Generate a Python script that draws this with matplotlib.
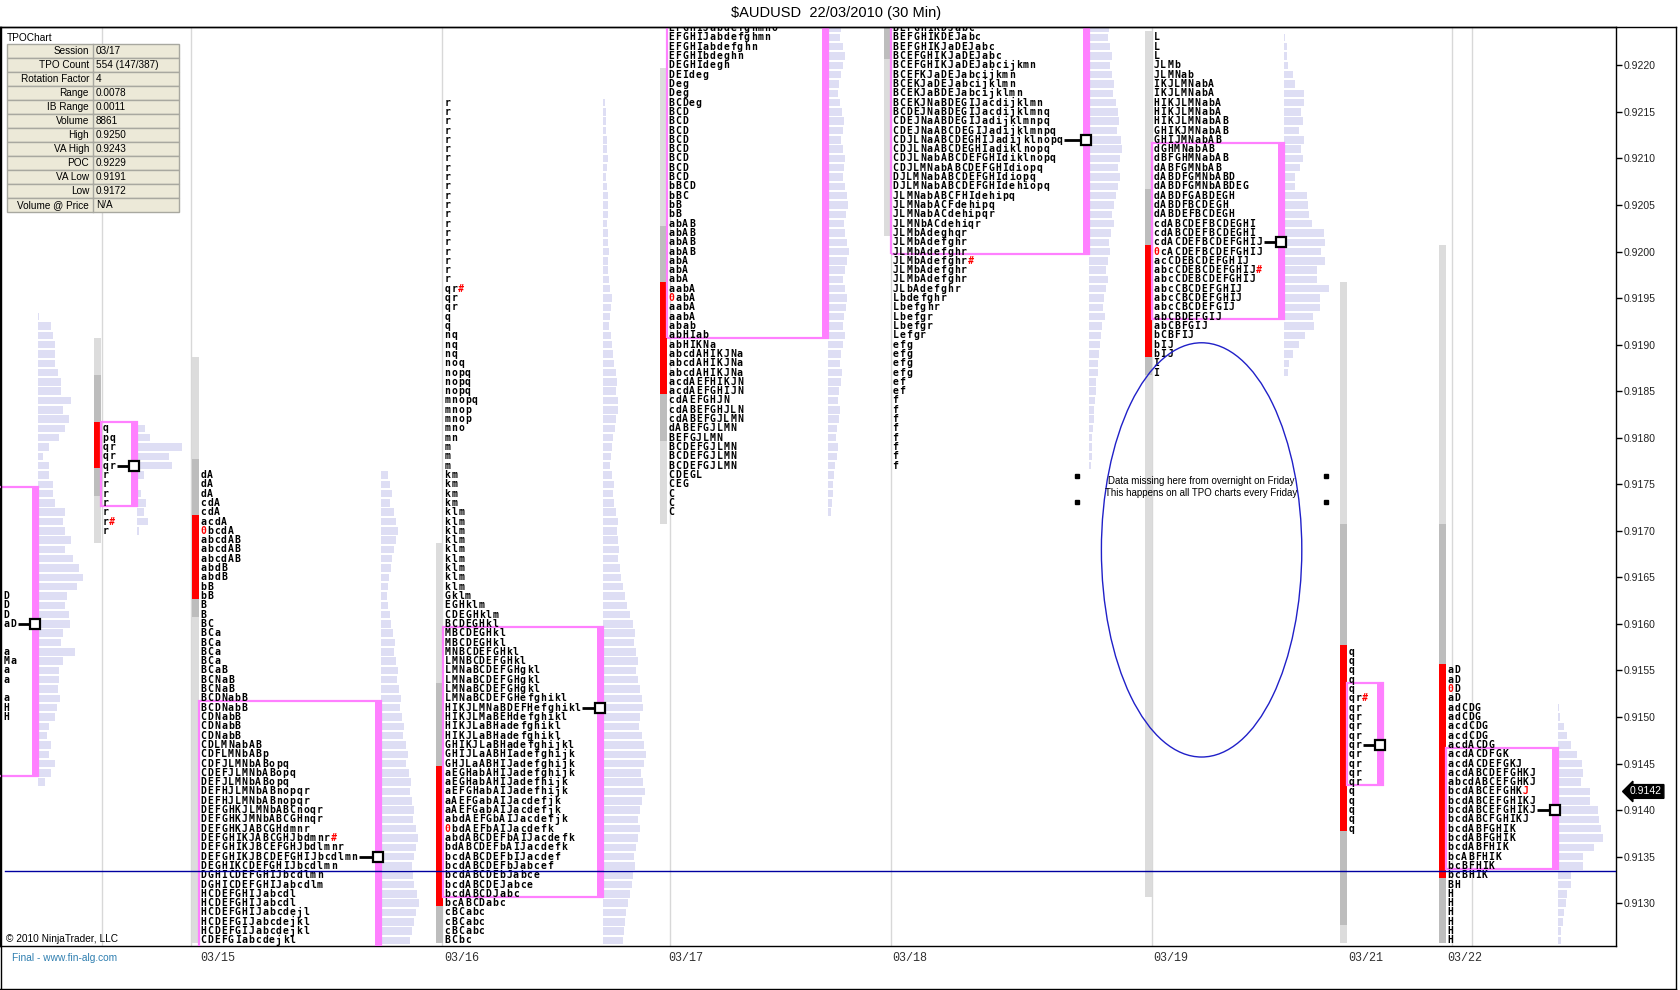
import matplotlib
matplotlib.use('Agg')
import matplotlib.pyplot as plt
from matplotlib.patches import Rectangle, Ellipse
from matplotlib.ticker import MultipleLocator, FormatStrFormatter

PIP = 0.0001

# ---------------------------------------------------------------- data
# one entry per session shown: 03/12 (cut off), 03/14 evening, 03/15 ... 03/22
session_names = ['03/12', '03/14', '03/15', '03/16', '03/17', '03/18', '03/19', '03/21', '03/22']
date_labels = ['', '', '03/15', '03/16', '03/17', '03/18', '03/19', '03/21', '03/22']

tpo_12 = ['D', 'D', 'D', 'aD', '', '', 'a', 'Ma', 'a', 'a', '', 'a', 'H', 'H']
tpo_14 = ['q', 'pq', 'qr', 'qr', 'qr', 'r', 'r', 'r', 'r', 'r', 'r#', 'r']
tpo_15 = ['dA', 'dA', 'dA', 'cdA', 'cdA', 'acdA', '0bcdA', 'abcdAB', 'abcdAB', 'abcdAB',
          'abdB', 'abdB', 'bB', 'bB', 'B', 'B', 'BC', 'BCa', 'BCa', 'BCa', 'BCa', 'BCaB',
          'BCNaB', 'BCNaB', 'BCDNabB', 'BCDNabB', 'CDNabB', 'CDNabB', 'CDNabB', 'CDLMNabAB',
          'CDFLMNbABp', 'CDFJLMNbABopq', 'CDEFJLMNbABopq', 'DEFJLMNbABopq', 'DEFHJLMNbABnopqr',
          'DEFHJLMNbABnopqr', 'DEFGHKJLMNbABCnoqr', 'DEFGHKJMNbABCGHnqr', 'DEFGHKJABCGHdmnr',
          'DEFGHIKJABCGHJbdmnr#', 'DEFGHIKJBCEFGHJbdlmnr', 'DEFGHIKJBCDEFGHIJbcdlmn',
          'DEGHIKCDEFGHIJbcdlmn', 'DGHICDEFGHIJbcdlmn', 'DGHICDEFGHIJabcdlm', 'HCDEFGHIJabcdl',
          'HCDEFGHIJabcdl', 'HCDEFGHIJabcdejl', 'HCDEFGIJabcdejkl', 'HCDEFGIJabcdejkl',
          'CDEFGIabcdejkl']
tpo_16 = ['r', 'r', 'r', 'r', 'r', 'r', 'r', 'r', 'r', 'r', 'r', 'r', 'r', 'r', 'r', 'r',
          'r', 'r', 'r', 'r', 'qr#', 'qr', 'qr', 'q', 'q', 'nq', 'nq', 'nq', 'noq', 'nopq',
          'nopq', 'nopq', 'mnopq', 'mnop', 'mnop', 'mno', 'mn', 'm', 'm', 'm', 'km', 'km', 'km',
          'km', 'klm', 'klm', 'klm', 'klm', 'klm', 'klm', 'klm', 'klm', 'klm', 'Gklm', 'EGHklm',
          'CDEGHklm', 'BCDEGHkl', 'MBCDEGHkl', 'MBCDEGHkl', 'MNBCDEFGHkl', 'LMNBCDEFGHkl',
          'LMNaBCDEFGHgkl', 'LMNaBCDEFGHgkl', 'LMNaBCDEFGHgkl', 'LMNaBCDEFGHefghikl',
          'HIKJLMNaBDEFHefghikl', 'HIKJLMaBEHdefghikl', 'HIKJLaBHadefghikl', 'HIKJLaBHadefghikl',
          'GHIKJLaBHadefghijkl', 'GHIJLaABHIadefghijk', 'GHJLaABHIJadefghijk',
          'aEGHabAHIJadefghijk', 'aEGHabAHIJadefhijk', 'aEFGHabAIJadefhijk', 'aAEFGabAIJacdefjk',
          'aAEFGabAIJacdefjk', 'abdAEFGbAIJacdefjk', '0bdAEFbAIJacdefk', 'abdABCDEFbAIJacdefk',
          'bdABCDEFbAIJacdefk', 'bcdABCDEFbIJacdef', 'bcdABCDEFbJabcef', 'bcdABCDEbJabce',
          'bcdABCDEJabce', 'bcdABCDJabc', 'bcABCDabc', 'cBCabc', 'cBCabc', 'cBCabc', 'BCbc']
tpo_17 = ['EFGHIJabdefghmno', 'EFGHIJabdefghmn', 'EFGHIabdefghn', 'EFGHIbdeghn', 'DEGHIdegh',
          'DEIdeg', 'Deg', 'Deg', 'BCDeg', 'BCD', 'BCD', 'BCD', 'BCD', 'BCD', 'BCD', 'BCD', 'BCD',
          'bBCD', 'bBC', 'bB', 'bB', 'abAB', 'abAB', 'abAB', 'abAB', 'abA', 'abA', 'abA', 'aabA',
          '0abA', 'aabA', 'aabA', 'abab', 'abHIab', 'abHIKNa', 'abcdAHIKJNa', 'abcdAHIKJNa',
          'abcdAHIKJNa', 'acdAEFHIKJN', 'acdAEFGHIJN', 'cdAEFGHJN', 'cdABEFGHJLN', 'cdABEFGJLMN',
          'dABEFGJLMN', 'BEFGJLMN', 'BCDEFGJLMN', 'BCDEFGJLMN', 'BCDEFGJLMN', 'CDEGL', 'CEG',
          'C', 'C', 'C']
tpo_18 = ['BEFGHIKDJabc', 'BEFGHIKDEJabc', 'BEFGHIKJaDEJabc', 'BCEFGHIKJaDEJabc',
          'BCEFGHIKJaDEJabcijkmn', 'BCEFKJaDEJabcijkmn', 'BCEKJaDEJabcijklmn',
          'BCEKJaBDEJabcijklmn', 'BCEKJNaBDEGIJacdijklmn', 'BCDEJNaBDEGIJacdijklmnq',
          'CDEJNaABDEGIJadijklmnpq', 'CDEJNaABCDEGIJadijklmnpq', 'CDJLNaABCDEGHIJadijklnopq',
          'CDJLNaABCDEGHIadiklnopq', 'CDJLNabABCDEFGHIdiklnopq', 'CDJLMNabABCDEFGHIdiopq',
          'DJLMNabABCDEFGHIdiopq', 'DJLMNabABCDEFGHIdehiopq', 'JLMNabABCFHIdehipq',
          'JLMNabACFdehipq', 'JLMNabACdehipqr', 'JLMNbACdehiqr', 'JLMbAdeghqr', 'JLMbAdefghr',
          'JLMbAdefghr', 'JLMbAdefghr#', 'JLMbAdefghr', 'JLMbAdefghr', 'JLbAdefghr', 'Lbdefghr',
          'Lbefghr', 'Lbefgr', 'Lbefgr', 'Lefgr', 'efg', 'efg', 'efg', 'efg', 'ef', 'ef',
          'f', 'f', 'f', 'f', 'f', 'f', 'f', 'f']
tpo_19 = ['L', 'L', 'L', 'JLMb', 'JLMNab', 'IKJLMNabA', 'IKJLMNabA', 'HIKJLMNabA', 'HIKJLMNabA',
          'HIKJLMNabAB', 'GHIKJMNabAB', 'GHIJMNabAB', 'dGHMNabAB', 'dBFGHMNabAB', 'dABFGMNbAB',
          'dABDFGMNbABD', 'dABDFGMNbABDEG', 'dABDFGABDEGH', 'dABDFBCDEGH', 'dABDEFBCDEGH',
          'cdABCDEFBCDEGHI', 'cdABCDEFBCDEGHI', 'cdACDEFBCDEFGHIJ', '0cACDEFBCDEFGHIJ',
          'acCDEBCDEFGHIJ', 'abcCDEBCDEFGHIJ#', 'abcCDEBCDEFGHIJ', 'abcCBCDEFGHIJ',
          'abcCBCDEFGHIJ', 'abcCBCDEFGIJ', 'abCBDEFGIJ', 'abCBFGIJ', 'bCBFIJ', 'bIJ', 'bIJ',
          'I', 'I']
tpo_21 = ['q', 'q', 'q', 'q', 'q', 'qr#', 'qr', 'qr', 'qr', 'qr', 'qr', 'qr', 'qr', 'qr', 'qr',
          'q', 'q', 'q', 'q', 'q']
tpo_22 = ['aD', 'aD', '0D', 'aD', 'adCDG', 'adCDG', 'acdCDG', 'acdCDG', 'acdACDG', 'acdACDFGK',
          'acdACDEFGKJ', 'acdABCDEFGHKJ', 'abcdABCEFGHKJ', 'bcdABCEFGHK^J', 'bcdABCEFGHIKJ',
          'bcdABCEFGHIKJ', 'bcdABCFGHIKJ', 'bcdABFGHIK', 'bcdABFGHIK', 'bcdABFHIK', 'bcABFHIK',
          'bcBFHIK', 'bcBHIK', 'BH', 'H', 'H', 'H', 'H', 'H', 'H']
tpo_rows = [tpo_12, tpo_14, tpo_15, tpo_16, tpo_17, tpo_18, tpo_19, tpo_21, tpo_22]

tpo_top = [0.9163, 0.9181, 0.9176, 0.9216, 0.9224, 0.9224, 0.9223, 0.9157, 0.9155]
va_high = [0.9174, 0.9181, 0.9151, 0.9159, 0.9243, 0.9240, 0.9211, 0.9153, 0.9146]
va_low = [0.9144, 0.9173, 0.9120, 0.9131, 0.9191, 0.9200, 0.9193, 0.9143, 0.9134]
poc = [0.9160, 0.9177, 0.9135, 0.9151, 0.9229, 0.9212, 0.9201, 0.9147, 0.9140]
ib_high = [None, 0.9181, 0.9171, 0.9144, 0.9196, None, 0.9200, 0.9157, 0.9155]
ib_low = [None, 0.9177, 0.9163, 0.9130, 0.9185, None, 0.9189, 0.9138, 0.9133]
range_high = [None, 0.9190, 0.9188, 0.9168, 0.9219, 0.9224, 0.9223, 0.9196, 0.9200]
range_low = [None, 0.9169, 0.9126, 0.9126, 0.9171, 0.9202, 0.9131, 0.9126, 0.9126]
core_high = [None, 0.9186, 0.9177, 0.9153, 0.9202, 0.9224, 0.9206, 0.9170, 0.9170]
core_low = [None, 0.9174, 0.9161, 0.9126, 0.9180, 0.9221, 0.9187, 0.9128, 0.9126]

# volume profile bars (relative size), listed from the top price down
vol_12 = [4, 38, 46, 50, 52, 52, 60, 68, 70, 98, 76, 94, 80, 64, 34, 16, 32, 34, 46, 46, 52,
          80, 76, 80, 98, 80, 106, 124, 134, 116, 86, 80, 92, 96, 74, 68, 110, 74, 64, 62, 60,
          66, 58, 50, 34, 26, 38, 34, 50, 38, 20]
vol_14 = [24, 38, 134, 96, 104, 20, 0, 12, 26, 20, 32, 6]
vol_15 = [20, 28, 34, 26, 40, 44, 50, 46, 38, 34, 30, 24, 20, 18, 22, 26, 30, 36, 42, 40, 46,
          52, 48, 54, 60, 58, 64, 70, 66, 74, 80, 76, 84, 90, 86, 94, 100, 96, 104, 110, 106,
          98, 92, 96, 100, 108, 114, 104, 98, 92, 86]
vol_16 = [6, 8, 10, 10, 12, 12, 14, 12, 10, 12, 14, 16, 14, 12, 14, 16, 18, 16, 14, 18, 22,
          26, 24, 20, 18, 24, 28, 30, 34, 38, 42, 40, 46, 44, 40, 36, 30, 26, 24, 22, 28, 32,
          30, 34, 40, 44, 42, 46, 48, 44, 50, 54, 60, 66, 72, 80, 90, 96, 92, 100, 106, 98,
          104, 110, 116, 120, 112, 108, 118, 124, 130, 122, 114, 120, 126, 118, 110, 104, 112,
          106, 98, 92, 96, 90, 86, 80, 74, 70, 66, 62, 60]
vol_17 = [40, 36, 44, 50, 46, 40, 34, 30, 36, 42, 48, 44, 40, 46, 52, 48, 44, 50, 56, 60, 54,
          48, 52, 58, 62, 56, 50, 46, 52, 58, 54, 48, 44, 50, 46, 40, 36, 42, 38, 34, 30, 36,
          32, 28, 24, 30, 26, 22, 18, 16, 14, 12, 10]
vol_18 = [60, 56, 62, 68, 64, 70, 76, 72, 80, 86, 90, 84, 96, 100, 92, 88, 94, 86, 80, 76, 70,
          74, 66, 60, 64, 58, 52, 56, 50, 46, 42, 48, 40, 36, 32, 30, 26, 28, 22, 20, 18, 16,
          14, 12, 10, 8, 8, 6]
vol_19 = [2, 8, 10, 12, 28, 32, 60, 60, 50, 56, 46, 60, 52, 58, 48, 32, 32, 68, 72, 74, 84,
          120, 122, 112, 124, 98, 100, 134, 108, 108, 88, 90, 62, 44, 28, 16, 12]
vol_21 = []
vol_22 = [4, 6, 18, 28, 40, 58, 72, 76, 70, 96, 96, 120, 122, 130, 136, 108, 76, 76, 38, 40,
          28, 24, 18, 14, 10, 8]
vol_rows = [vol_12, vol_14, vol_15, vol_16, vol_17, vol_18, vol_19, vol_21, vol_22]
vol_top = [0.9193, 0.9181, 0.9176, 0.9216, 0.9224, 0.9224, 0.9223, 0.9157, 0.9151]

last_price = 0.9142
ref_price = 0.91335
gap_high, gap_low = 0.91902, 0.91457

info_labels = ['Session', 'TPO Count', 'Rotation Factor', 'Range', 'IB Range', 'Volume',
               'High', 'VA High', 'POC', 'VA Low', 'Low', 'Volume @ Price']
info_values = ['03/17', '554 (147/387)', '4', '0.0078', '0.0011', '8861', '0.9250',
               '0.9243', '0.9229', '0.9191', '0.9172', 'N/A']

# ---------------------------------------------------------------- layout (pixels)
letters_x = [3, 102, 200, 444, 668, 892, 1153, 1348, 1447]
box_right = [38, 137, 381, 603, 828, 1089, 1284, 1383, 1558]
box_left = [-40, 101, 199, 443, 667, 891, 1152, 1347, 1446]
grid_x = [102, 191, 442, 670, 891, 1152, 1452, 1472]

CW = 6.85          # letter pitch in px
FS = 7.0
MAGENTA = '#ff80ff'
RED = '#ff0000'
LAV = '#dedef4'
TOP_PAD, BOT_PAD = 0.00007, 0.00003

fig = plt.figure(figsize=(16.8, 9.9), dpi=100)
ax = fig.add_axes([0, 44 / 990, 1616 / 1680, 919 / 990])
ax.set_xlim(0, 1616)
ax.set_ylim(0.91254, 0.922412)

for gx in grid_x:
    ax.axvline(gx, color='#d8d8d8', lw=1, zorder=1)


def draw_row(x0, price, s):
    # one glyph per cell, like the fixed grid of the TPO letters
    n = 0
    red_next = False
    for ch in s:
        if ch == '^':
            red_next = True
            continue
        col = RED if (red_next or ch in '#0') else 'black'
        red_next = False
        ax.text(x0 + (n + 0.5) * CW, price, ch, color=col, family='DejaVu Sans Mono',
                weight='bold', size=FS, ha='center', va='center', zorder=4, clip_on=True)
        n += 1
    return x0 + n * CW


for k in range(len(session_names)):
    x0 = letters_x[k]
    xr = box_right[k]
    # session range column (grey) and initial balance (red)
    if range_high[k] is not None:
        ax.add_patch(Rectangle((x0 - 8, range_low[k] - BOT_PAD), 7,
                               range_high[k] - range_low[k] + PIP, fc='#dcdcdc', ec='none', zorder=2))
        ax.add_patch(Rectangle((x0 - 8, core_low[k] - BOT_PAD), 7,
                               core_high[k] - core_low[k] + PIP, fc='#bdbdbd', ec='none', zorder=2))
    if ib_high[k] is not None:
        ax.add_patch(Rectangle((x0 - 8, ib_low[k] - BOT_PAD), 7,
                               ib_high[k] - ib_low[k] + PIP, fc=RED, ec='none', zorder=2))
    # volume profile
    vals = vol_rows[k]
    if vals:
        ys = [vol_top[k] - i * PIP for i in range(len(vals))]
        ax.barh(ys, [v / 3 for v in vals], left=xr, height=0.8 * PIP, color=LAV, zorder=2)
    # value area box
    lo = va_low[k] - BOT_PAD
    hgt = va_high[k] - va_low[k] + PIP
    xl = box_left[k]
    ax.add_patch(Rectangle((xl, lo), xr - xl, hgt, fill=False, ec=MAGENTA, lw=1.6, zorder=3))
    ax.add_patch(Rectangle((xr - 6, lo), 6, hgt, fc=MAGENTA, ec='none', zorder=3))
    # letters
    poc_end = None
    for i, s in enumerate(tpo_rows[k]):
        p = tpo_top[k] - i * PIP
        end = draw_row(x0, p, s)
        if abs(p - poc[k]) < PIP / 2:
            poc_end = end
    if poc_end is not None:
        ax.plot([poc_end + 1, xr - 3], [poc[k], poc[k]], color='black', lw=2, zorder=6,
                solid_capstyle='butt')
        ax.plot([xr - 3], [poc[k]], marker='s', ms=6.5, mfc='white', mec='black', mew=1.6,
                zorder=7)

ax.plot([5, 1616], [ref_price, ref_price], color='#0000a0', lw=1, zorder=5)

# missing-data note
gx_c, gw = 1201.6, 200.4
ax.add_patch(Ellipse((gx_c, (gap_high + gap_low) / 2), gw, gap_high - gap_low,
                     fill=False, ec='#2020c8', lw=1, zorder=6))
note_y = gap_high - 0.00155
ax.text(gx_c, note_y, 'Data missing here from overnight on Friday\nThis happens on all TPO charts every Friday',
        ha='center', va='center', fontsize=7, family='Liberation Sans', linespacing=1.15, zorder=7)
for hx in (1077, 1326):
    for hy in (note_y + 0.00012, note_y - 0.00016):
        ax.plot([hx], [hy], marker='s', ms=3.5, color='black', zorder=7)

# axes styling
for side in ('top', 'bottom', 'right', 'left'):
    ax.spines[side].set_color('black')
    ax.spines[side].set_linewidth(1)
ax.yaxis.tick_right()
ax.yaxis.set_major_locator(MultipleLocator(0.0005))
ax.yaxis.set_major_formatter(FormatStrFormatter('%.4f'))
ax.tick_params(axis='y', length=4, width=1, pad=1.5, labelsize=7.5, labelcolor='#202020')
for lab in ax.get_yticklabels():
    lab.set_family('Liberation Sans')
ax.set_xticks([x for x, d in zip(letters_x, date_labels) if d])
ax.set_xticklabels([d for d in date_labels if d], family='Liberation Mono', fontsize=8.5,
                   color='#303030', ha='left')
ax.tick_params(axis='x', length=0, pad=4)

ax.text(1630 / 1616, last_price, '%.4f' % last_price, transform=ax.get_yaxis_transform(),
        color='white', fontsize=7.5, family='Liberation Sans', ha='left', va='center',
        bbox=dict(boxstyle='larrow,pad=0.18', fc='black', ec='black'), clip_on=False, zorder=8)

# ---------------------------------------------------------------- overlay (pixel coords)
ov = fig.add_axes([0, 0, 1, 1], zorder=5)
ov.set_xlim(0, 1680)
ov.set_ylim(990, 0)
ov.axis('off')

ov.plot([0.5, 0.5], [27, 989], color='black', lw=1)
ov.plot([0, 1676], [988.5, 988.5], color='black', lw=1)
ov.plot([0, 1676], [27, 27], color='black', lw=1)
ov.plot([1675.5, 1675.5], [27, 989], color='black', lw=1)

ov.text(836, 13, '\\$AUDUSD  22/03/2010 (30 Min)', ha='center', va='center', fontsize=10.5,
        family='Liberation Sans')
ov.text(6, 939, '\u00a9 2010 NinjaTrader, LLC', ha='left', va='center', fontsize=7.3,
        family='Liberation Sans')
ov.text(12, 958, 'Final - www.fin-alg.com', ha='left', va='center', fontsize=7.3,
        family='Liberation Sans', color='#2f7fb0')

ov.text(7, 38, 'TPOChart', ha='left', va='center', fontsize=7.3, family='Liberation Sans')
tx_l, tx_m, tx_r, ty, rh = 7, 93, 179, 44, 14
for i, (lab, val) in enumerate(zip(info_labels, info_values)):
    y = ty + i * rh
    ov.add_patch(Rectangle((tx_l, y), tx_r - tx_l, rh, fc='#ece9d8', ec='#a8a8a0', lw=1))
    ov.plot([tx_m, tx_m], [y, y + rh], color='#a8a8a0', lw=1)
    ov.text(tx_m - 4, y + rh / 2 + 0.5, lab, ha='right', va='center', fontsize=7.2,
            family='Liberation Sans')
    ov.text(tx_m + 3, y + rh / 2 + 0.5, val, ha='left', va='center', fontsize=7.2,
            family='Liberation Sans')

fig.savefig('out.png', dpi=100)
